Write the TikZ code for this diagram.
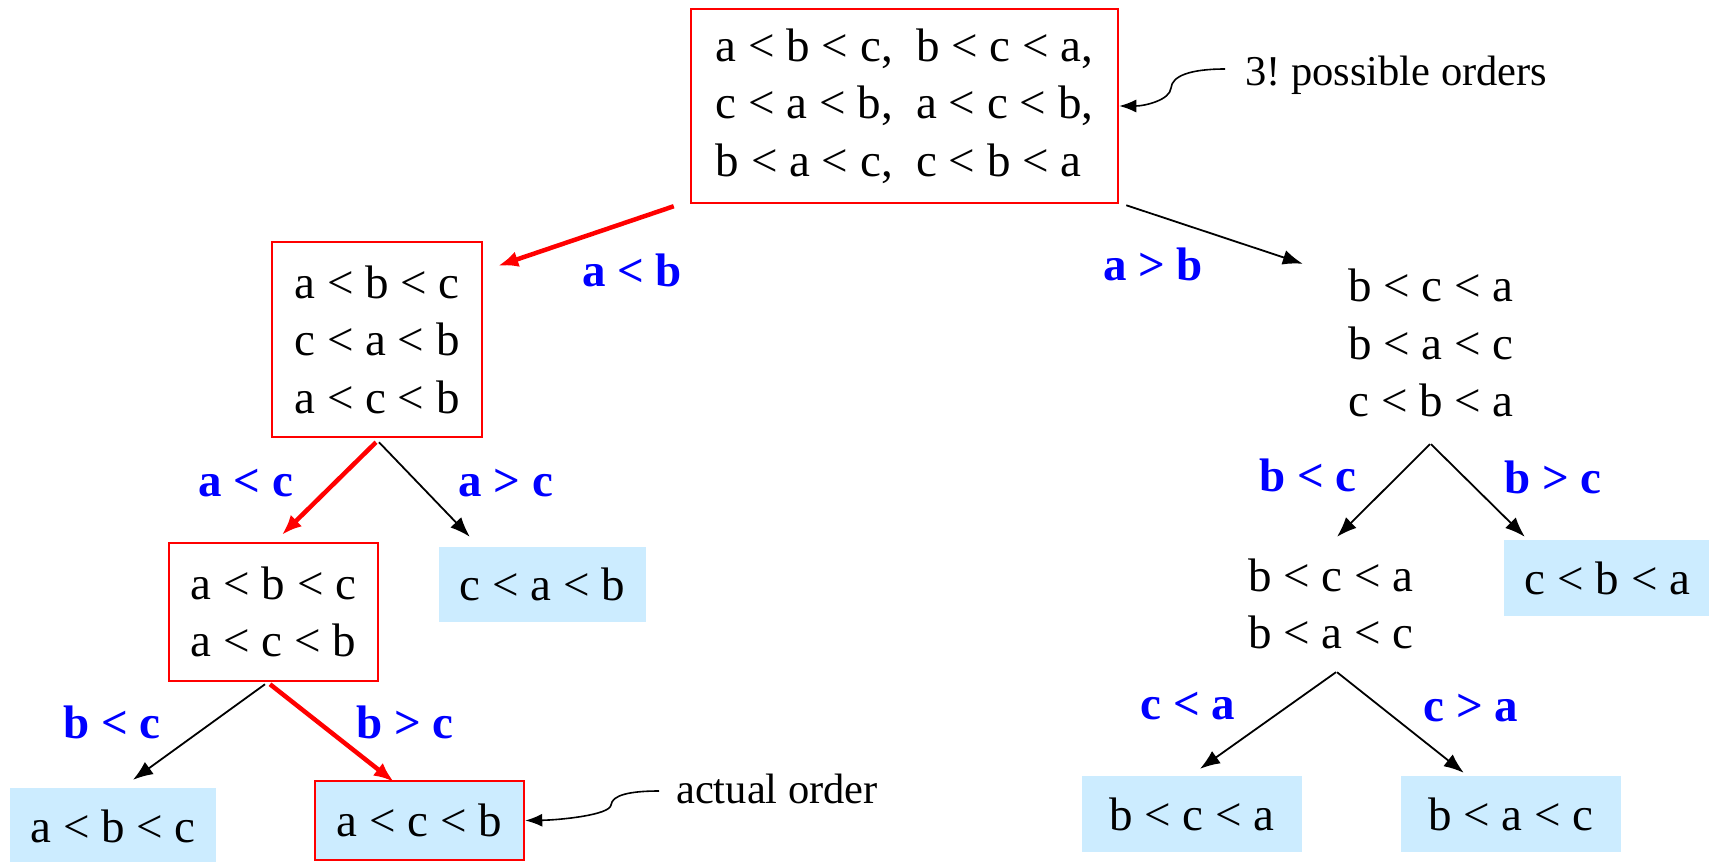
\documentclass[tikz,border=0pt]{standalone}
\usepackage{fontspec}
\setmainfont{Liberation Serif}
\usetikzlibrary{arrows.meta}
\definecolor{leafblue}{RGB}{204,236,255}
\frenchspacing

\newcommand*{\picw}{1709}
\newcommand*{\pich}{862}

\begin{document}
\begin{tikzpicture}
[
	x=1pt, y=-1pt,
	font=\fontsize{47}{57.5}\selectfont,
	order/.style={draw=red,line width=2.5pt,inner sep=0pt,align=left},
	plain/.style={inner sep=0pt,align=left},
	leaf/.style={fill=leafblue,inner sep=0pt,minimum height=76pt},
	cond/.style={text=blue,font=\fontsize{47}{57.5}\selectfont\bfseries,inner sep=0pt},
	note/.style={inner sep=0pt,anchor=base west,font=\fontsize{42.5}{50}\selectfont},
	cmp/.style={-{Latex[length=20pt,width=15pt]},line width=1.8pt},
	taken/.style={-{Latex[length=20pt,width=16pt]},red,line width=4.5pt},
	hint/.style={-{Latex[length=17pt,width=13pt]},line width=1.6pt},
]

	\useasboundingbox (0,0) rectangle (\picw,\pich);

	% all orders
	\node[order,minimum width=427pt,minimum height=194pt] (root) at (904.5,106)
		{a < b < c,\ \ b < c < a,\\ c < a < b,\ \ a < c < b,\\ b < a < c,\ \ c < b < a};
	\node[note] (possible) at (1245,85) {3! possible orders};

	% first comparison
	\node[order,minimum width=210pt,minimum height=195pt] (lo) at (377,339.5)
		{a < b < c\\ c < a < b\\ a < c < b};
	\node[plain,minimum width=207pt,minimum height=195pt] (hi) at (1431,343)
		{b < c < a\\ b < a < c\\ c < b < a};

	% second comparison
	\node[order,minimum width=209pt,minimum height=138pt] (lolo) at (273.5,612)
		{a < b < c\\ a < c < b};
	\node[leaf,minimum width=207pt,minimum height=75pt] (lohi) at (542.5,584.5) {c < a < b};
	\node[plain,minimum width=209pt,minimum height=138pt] (hilo) at (1331,604)
		{b < c < a\\ b < a < c};
	\node[leaf,minimum width=207pt] (hihi) at (1607.5,578) {c < b < a};

	% last comparison
	\node[leaf,minimum width=206pt] (lololo) at (113,826) {a < b < c};
	\node[leaf,draw=red,line width=2.5pt,minimum width=209pt,minimum height=79pt] (lolohi) at (419.5,820.5) {a < c < b};
	\node[note] (actual) at (676,803) {actual order};
	\node[leaf,minimum width=220pt] (hilolo) at (1192,814) {b < c < a};
	\node[leaf,minimum width=220pt] (hilohi) at (1511,814) {b < a < c};

	% outcomes
	\foreach \x/\y/\t [count=\i] in {632/270/a < b, 1153/264/a > b, 246/483/a < c, 506/483/a > c,
		112/722/b < c, 405/722/b > c, 1308/475/b < c, 1553/477/b > c, 1188/706/c < a, 1471/708/c > a}
		\node[cond] (cond\i) at (\x,\y) {\t};

	% branches
	\draw[taken] ([xshift=-16,yshift=-2]root.south west) -- ([xshift=15,yshift=-25]lo.north east);
	\draw[cmp] ([xshift=7,yshift=-1]root.south east) -- ([xshift=-24.5,yshift=-18.5]hi.north west);
	\draw[taken] ([xshift=-1,yshift=-4]lo.south) -- ([xshift=8.5,yshift=7]lolo.north);
	\draw[cmp] ([xshift=2,yshift=-4]lo.south) -- ([xshift=31,yshift=10]lohi.north west);
	\draw[cmp] ([xshift=-1,yshift=-3.5]hi.south) -- ([xshift=6,yshift=-2]hilo.north);
	\draw[cmp] ([yshift=-3.5]hi.south) -- ([xshift=21,yshift=3]hihi.north west);
	\draw[cmp] ([xshift=-8.5,yshift=-2]lolo.south) -- ([xshift=20,yshift=8]lololo.north);
	\draw[taken] ([xshift=-3.5,yshift=-2]lolo.south) -- ([xshift=80,yshift=-2]lolohi.north west);
	\draw[cmp] ([xshift=5,yshift=1]hilo.south) -- ([xshift=8,yshift=7]hilolo.north);
	\draw[cmp] ([xshift=6,yshift=1]hilo.south) -- ([xshift=63,yshift=3]hilohi.north west);

	% notes
	\draw[hint] ([xshift=-20,yshift=16]possible.base west)
		.. controls (1190,69) and (1172,76) .. (1171,88)
		.. controls (1170,100) and (1145,106) .. (root.east);
	\draw[hint] ([xshift=-17,yshift=12]actual.base west)
		.. controls (630,791) and (612,795) .. (611,805)
		.. controls (610,815) and (560,820) .. (lolohi.east);

\end{tikzpicture}
\end{document}
